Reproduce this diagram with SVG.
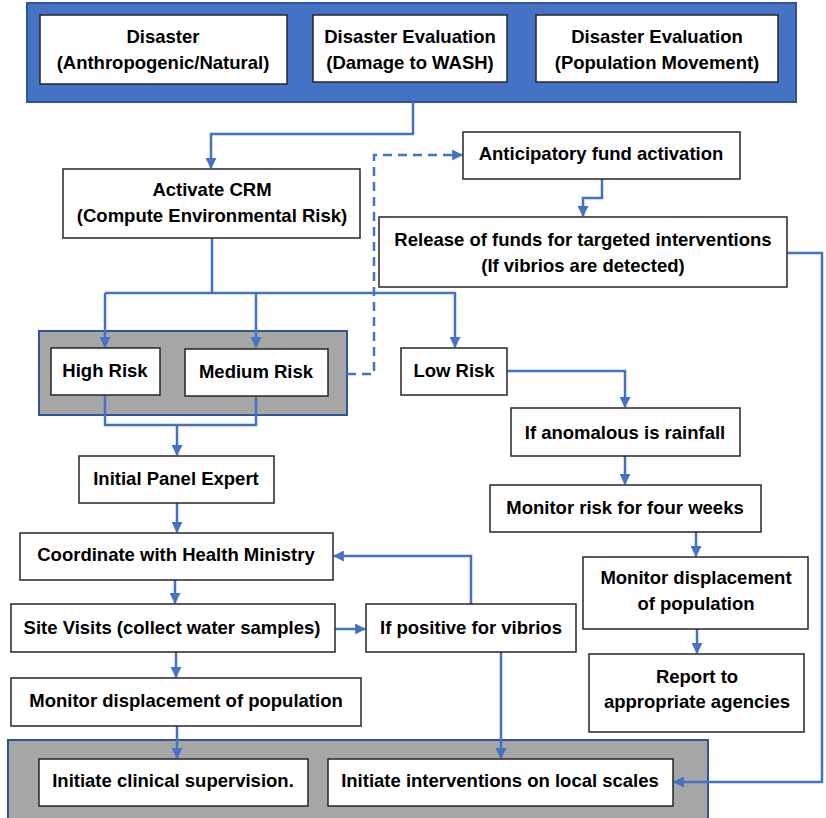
<svg xmlns="http://www.w3.org/2000/svg" width="826" height="818" viewBox="0 0 826 818">
<defs>
<marker id="ah" viewBox="0 0 10 10" refX="9" refY="5" markerWidth="4.4" markerHeight="4.4" orient="auto" markerUnits="strokeWidth">
<path d="M0,0 L10,5 L0,10 z" fill="#4472C4"/>
</marker>
<style>
.box{fill:#fff;stroke:#262626;stroke-width:1.5}
.t{font-family:"Liberation Sans",Arial,sans-serif;font-weight:bold;font-size:18.5px;fill:#000;text-anchor:middle}
.c{fill:none;stroke:#4472C4;stroke-width:2.5;marker-end:url(#ah)}
.n{fill:none;stroke:#4472C4;stroke-width:2.5}
.d{fill:none;stroke:#4472C4;stroke-width:2.5;stroke-dasharray:9,6;marker-end:url(#ah)}
.grp{fill:#A6A6A6;stroke:#2F5597;stroke-width:2}
</style>
</defs>
<rect width="826" height="818" fill="#fff"/>

<g id="banner">
<rect x="27" y="3" width="769" height="99" fill="#4472C4" stroke="#2F5597" stroke-width="2"/>
</g>
<g id="disaster">
<rect class="box" x="40" y="15" width="247" height="69"/>
<text class="t" x="163" y="43">Disaster</text>
<text class="t" x="163" y="69">(Anthropogenic/Natural)</text>
</g>
<g id="eval-wash">
<rect class="box" x="313" y="15" width="194" height="67"/>
<text class="t" x="410" y="43">Disaster Evaluation</text>
<text class="t" x="410" y="69">(Damage to WASH)</text>
</g>
<g id="eval-pop">
<rect class="box" x="536" y="15" width="242" height="67"/>
<text class="t" x="657" y="43">Disaster Evaluation</text>
<text class="t" x="657" y="69">(Population Movement)</text>
</g>

<g id="grp-risk">
<rect class="grp" x="39" y="331" width="308" height="84"/>
</g>
<g id="grp-bottom">
<rect class="grp" x="8" y="740" width="700" height="90"/>
</g>

<g id="connectors">
<path class="c" d="M413,102 V134 H211 V168"/>
<path class="n" d="M212,238 V293"/>
<path class="c" d="M105,293 H455 V347"/>
<path class="c" d="M256,293 V347"/>
<path class="c" d="M105,293 V347"/>
<path class="d" d="M347,374 H374 V155 H462"/>
<path class="c" d="M602,179 V198 H583 V216"/>
<path class="c" d="M787,253 H822 V782 H674"/>
<path class="c" d="M507,371 H625 V407"/>
<path class="c" d="M625,456 V484"/>
<path class="c" d="M696,532 V556"/>
<path class="c" d="M697,629 V653"/>
<path class="n" d="M105,395 V425 H256 V396"/>
<path class="c" d="M177,425 V455"/>
<path class="c" d="M177,503 V532"/>
<path class="c" d="M175,580 V603"/>
<path class="c" d="M335,629 H365"/>
<path class="c" d="M471,604 V556 H334"/>
<path class="c" d="M501,652 V758"/>
<path class="c" d="M176,652 V677"/>
<path class="c" d="M177,726 V758"/>
</g>

<g id="crm">
<rect class="box" x="63" y="169" width="297" height="69"/>
<text class="t" x="212" y="196">Activate CRM</text>
<text class="t" x="212" y="222">(Compute Environmental Risk)</text>
</g>
<g id="high">
<rect class="box" x="51" y="348" width="109" height="47"/>
<text class="t" x="105" y="377">High Risk</text>
</g>
<g id="medium">
<rect class="box" x="185" y="349" width="143" height="47"/>
<text class="t" x="256" y="378">Medium Risk</text>
</g>
<g id="low">
<rect class="box" x="401" y="348" width="106" height="47"/>
<text class="t" x="454" y="377">Low Risk</text>
</g>
<g id="anticipatory">
<rect class="box" x="463" y="132" width="277" height="47"/>
<text class="t" x="601" y="160">Anticipatory fund activation</text>
</g>
<g id="release">
<rect class="box" x="379" y="217" width="408" height="70"/>
<text class="t" x="583" y="246">Release of funds for targeted interventions</text>
<text class="t" x="583" y="272">(If vibrios are detected)</text>
</g>
<g id="anomalous">
<rect class="box" x="511" y="408" width="229" height="48"/>
<text class="t" x="625" y="439">If anomalous is rainfall</text>
</g>
<g id="monitor-risk">
<rect class="box" x="490" y="485" width="271" height="47"/>
<text class="t" x="625" y="514">Monitor risk for four weeks</text>
</g>
<g id="monitor-disp-r">
<rect class="box" x="583" y="557" width="225" height="72"/>
<text class="t" x="696" y="584">Monitor displacement</text>
<text class="t" x="696" y="610">of population</text>
</g>
<g id="report">
<rect class="box" x="589" y="654" width="215" height="78"/>
<text class="t" x="697" y="683">Report to</text>
<text class="t" x="697" y="708">appropriate agencies</text>
</g>
<g id="panel">
<rect class="box" x="79" y="456" width="195" height="47"/>
<text class="t" x="176" y="485">Initial Panel Expert</text>
</g>
<g id="coordinate">
<rect class="box" x="20" y="533" width="313" height="47"/>
<text class="t" x="176" y="561">Coordinate with Health Ministry</text>
</g>
<g id="site">
<rect class="box" x="11" y="604" width="324" height="48"/>
<text class="t" x="172" y="634">Site Visits (collect water samples)</text>
</g>
<g id="positive">
<rect class="box" x="366" y="604" width="210" height="48"/>
<text class="t" x="471" y="634">If positive for vibrios</text>
</g>
<g id="monitor-disp-l">
<rect class="box" x="11" y="678" width="350" height="48"/>
<text class="t" x="186" y="707">Monitor displacement of population</text>
</g>
<g id="clinical">
<rect class="box" x="39" y="759" width="269" height="47"/>
<text class="t" x="173" y="787">Initiate clinical supervision.</text>
</g>
<g id="local">
<rect class="box" x="328" y="759" width="345" height="47"/>
<text class="t" x="500" y="787">Initiate interventions on local scales</text>
</g>
</svg>
